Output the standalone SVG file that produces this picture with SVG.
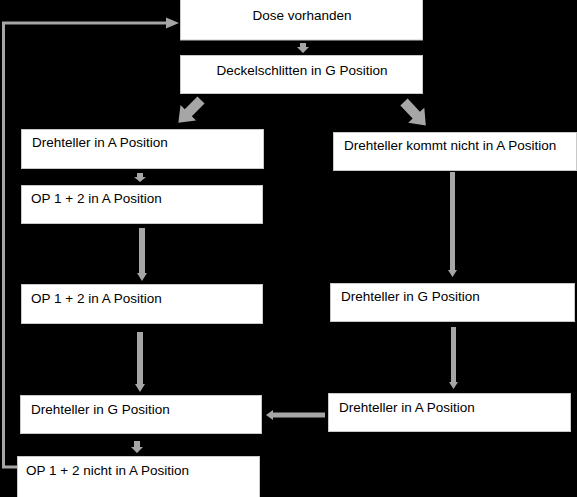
<svg xmlns="http://www.w3.org/2000/svg" width="577" height="497" viewBox="0 0 577 497">
<style>
.box{fill:#ffffff;stroke:#c8c8c8;stroke-width:1}
.t{font-family:"Liberation Sans",Arial,sans-serif;font-size:13.5px;fill:#000}
.c{text-anchor:middle}
.arr{fill:#a6a6a6}
.line{fill:none;stroke:#a6a6a6;stroke-width:3}
</style>
<rect x="0" y="0" width="577" height="497" fill="#000"/>
<g id="connectors">
<polygon class="arr" points="300,43 306,43 306,47 309,47 303,53 297,47 300,47"/>
<polygon class="arr" transform="translate(201,100) rotate(135)" points="0,-5 18,-5 18,-11 32,0 18,11 18,5 0,5"/>
<polygon class="arr" transform="translate(404,102) rotate(47)" points="0,-5 18,-5 18,-11 32,0 18,11 18,5 0,5"/>
<polygon class="arr" points="137,173 143,173 143,177 146,177 140,182 134,177 137,177"/>
<polygon class="arr" points="139,228 145,228 145,273 147,273 142,281 137,273 139,273"/>
<polygon class="arr" points="137,332 143,332 143,384 145,384 140,392 135,384 137,384"/>
<polygon class="arr" points="134,441 140,441 140,447 143,447 137,453 131,447 134,447"/>
<polygon class="arr" points="450,172 455,172 455,270 457,270 452.5,277 448,270 450,270"/>
<polygon class="arr" points="451,327 456,327 456,382 458,382 453.5,389 449,382 451,382"/>
<polygon class="arr" points="325,412.5 325,417.5 273,417.5 273,420 266,415 273,410 273,412.5"/>
<polyline class="line" points="18,467 3.5,467 3.5,23 167,23"/>
<polygon class="arr" points="166,17.5 179,23 166,28.5"/>
</g>
<g id="n1"><rect class="box" x="180.5" y="-1" width="242" height="41"/><text class="t c" x="302" y="20">Dose vorhanden</text></g>
<g id="n2"><rect class="box" x="180.5" y="55.5" width="242" height="38"/><text class="t c" x="302" y="75">Deckelschlitten in G Position</text></g>
<g id="n3"><rect class="box" x="21.5" y="129.5" width="242" height="39"/><text class="t" x="32" y="147">Drehteller in A Position</text></g>
<g id="n4"><rect class="box" x="21.5" y="185.5" width="241" height="38"/><text class="t" x="31" y="203">OP 1 + 2 in A Position</text></g>
<g id="n5"><rect class="box" x="21.5" y="284.5" width="241" height="39"/><text class="t" x="31" y="303">OP 1 + 2 in A Position</text></g>
<g id="n6"><rect class="box" x="333.5" y="132.5" width="243" height="38"/><text class="t" x="344" y="150">Drehteller kommt nicht in A Position</text></g>
<g id="n7"><rect class="box" x="330.5" y="283.5" width="244" height="38"/><text class="t" x="341" y="301">Drehteller in G Position</text></g>
<g id="n8"><rect class="box" x="328.5" y="393.5" width="242" height="38"/><text class="t" x="339" y="412">Drehteller in A Position</text></g>
<g id="n9"><rect class="box" x="20.5" y="395.5" width="241" height="38"/><text class="t" x="31" y="414">Drehteller in G Position</text></g>
<g id="n10"><rect class="box" x="17.5" y="456.5" width="242" height="41"/><text class="t" x="26" y="475">OP 1 + 2 nicht in A Position</text></g>
</svg>
